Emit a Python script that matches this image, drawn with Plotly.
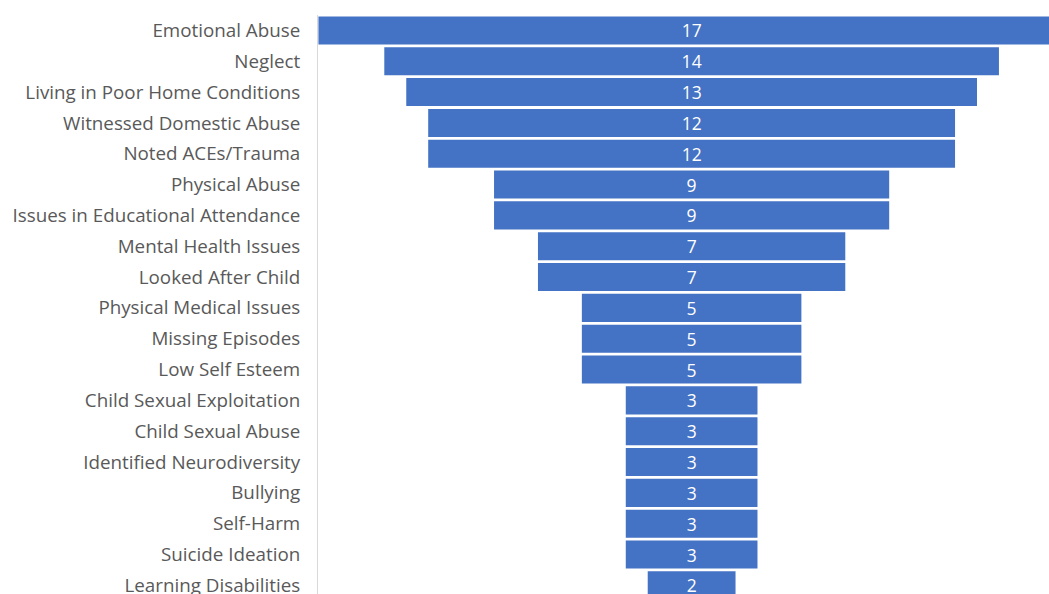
import plotly.graph_objects as go

categories = [
    "Emotional Abuse", "Neglect", "Living in Poor Home Conditions",
    "Witnessed Domestic Abuse", "Noted ACEs/Trauma", "Physical Abuse",
    "Issues in Educational Attendance", "Mental Health Issues",
    "Looked After Child", "Physical Medical Issues", "Missing Episodes",
    "Low Self Esteem", "Child Sexual Exploitation", "Child Sexual Abuse",
    "Identified Neurodiversity", "Bullying", "Self-Harm", "Suicide Ideation",
    "Learning Disabilities",
]
counts = [17, 14, 13, 12, 12, 9, 9, 7, 7, 5, 5, 5, 3, 3, 3, 3, 3, 3, 2]

BAR_COLOR = "#4472C4"
FONT = "Open Sans"

# Centred funnel: each bar starts at -value/2 so it sits symmetric around zero
bases = [-v / 2 for v in counts]

fig = go.Figure(
    go.Bar(
        y=categories,
        x=counts,
        base=bases,
        orientation="h",
        marker=dict(color=BAR_COLOR, line=dict(width=0)),
        text=[str(v) for v in counts],
        textposition="inside",
        insidetextanchor="middle",
        textangle=0,
        constraintext="none",
        textfont=dict(color="white", size=17.5, family=FONT),
        hoverinfo="y+x",
    )
)

fig.update_layout(
    width=1049,
    height=594,
    margin=dict(l=318, r=0, t=15, b=0, autoexpand=False),
    paper_bgcolor="white",
    plot_bgcolor="white",
    bargap=0.09,
    showlegend=False,
    font=dict(family=FONT, color="#595959", size=18.8),
)

fig.update_xaxes(
    range=[-8.51, 8.14],
    showgrid=False,
    zeroline=False,
    showticklabels=False,
    showline=False,
    automargin=False,
)

fig.update_yaxes(
    type="category",
    categoryorder="array",
    categoryarray=categories,
    range=[18.28, -0.5],
    showgrid=False,
    zeroline=False,
    showline=True,
    linecolor="#d9d9d9",
    linewidth=1,
    ticks="",
    ticklabelstandoff=13,
    automargin=False,
    tickfont=dict(size=18.8, color="#595959", family=FONT),
)

fig.write_html("out.html")
